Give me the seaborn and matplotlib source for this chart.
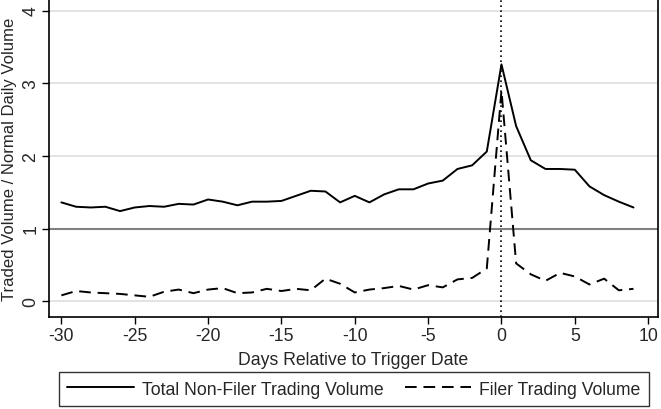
import matplotlib
matplotlib.use("Agg")
import matplotlib.pyplot as plt
import pandas as pd
import seaborn as sns

days = list(range(-30, 10))
non_filer = [1.36, 1.30, 1.29, 1.30, 1.24, 1.29, 1.31, 1.30, 1.34, 1.33,
             1.40, 1.37, 1.32, 1.37, 1.37, 1.38, 1.45, 1.52, 1.51, 1.36,
             1.45, 1.36, 1.47, 1.54, 1.54, 1.62, 1.66, 1.82, 1.87, 2.06,
             3.26, 2.41, 1.94, 1.82, 1.82, 1.81, 1.58, 1.46, 1.37, 1.29]
filer = [0.08, 0.14, 0.12, 0.11, 0.10, 0.08, 0.06, 0.13, 0.16, 0.11,
         0.16, 0.18, 0.11, 0.12, 0.17, 0.14, 0.17, 0.15, 0.31, 0.24,
         0.12, 0.16, 0.18, 0.21, 0.16, 0.22, 0.19, 0.30, 0.32, 0.45,
         2.90, 0.52, 0.37, 0.28, 0.39, 0.34, 0.23, 0.31, 0.15, 0.17]

df = pd.DataFrame({'day': days, 'non_filer': non_filer, 'filer': filer})

sns.set_style("white")
plt.rcParams['font.family'] = ['Liberation Sans', 'DejaVu Sans']
plt.rcParams['axes.unicode_minus'] = False

fs = 12.7

fig = plt.figure(figsize=(6.61, 4.10), dpi=100)
ax = fig.add_axes([0.074, 0.224, 0.921, 0.776])

for y in [0, 2, 3, 4]:
    ax.axhline(y, color='#e0e0e0', lw=1.3, zorder=0)
ax.axhline(1, color='#808080', lw=1.5, zorder=1)
ax.axvline(0, color='black', lw=1.2, linestyle=(0, (1, 2)), zorder=3)

sns.lineplot(data=df, x='day', y='non_filer', ax=ax, color='black', lw=1.4,
             label='Total Non-Filer Trading Volume')
sns.lineplot(data=df, x='day', y='filer', ax=ax, color='black', lw=1.4,
             linestyle=(0, (6, 3.5)), label='Filer Trading Volume')

ax.set_xlim(-30.85, 10.65)
ax.set_ylim(-0.22, 4.16)
ax.set_xticks(range(-30, 11, 5))
ax.set_yticks(range(0, 5))
ax.tick_params(axis='both', labelsize=fs, length=5, width=1, color='black',
               direction='out', bottom=True, left=True, pad=2)
for lab in ax.get_yticklabels():
    lab.set_rotation(90)
    lab.set_va('center')
for side in ['left', 'bottom', 'top', 'right']:
    ax.spines[side].set_color('black')
    ax.spines[side].set_linewidth(1.2)

ax.set_xlabel('Days Relative to Trigger Date', fontsize=fs, labelpad=5)
ax.set_ylabel('Traded Volume / Normal Daily Volume', fontsize=12.0, labelpad=4)

ax.get_legend().remove()
handles, labels = ax.get_legend_handles_labels()
leg = fig.legend(handles, labels, loc='lower center', bbox_to_anchor=(0.5356, 0.0),
                 ncol=2, fontsize=fs, frameon=True, fancybox=False,
                 edgecolor='black', handlelength=3.75, handletextpad=0.45,
                 columnspacing=1.25, borderpad=0.5, borderaxespad=0.15)
leg.get_frame().set_linewidth(1.0)

fig.savefig('out.png', dpi=100)
